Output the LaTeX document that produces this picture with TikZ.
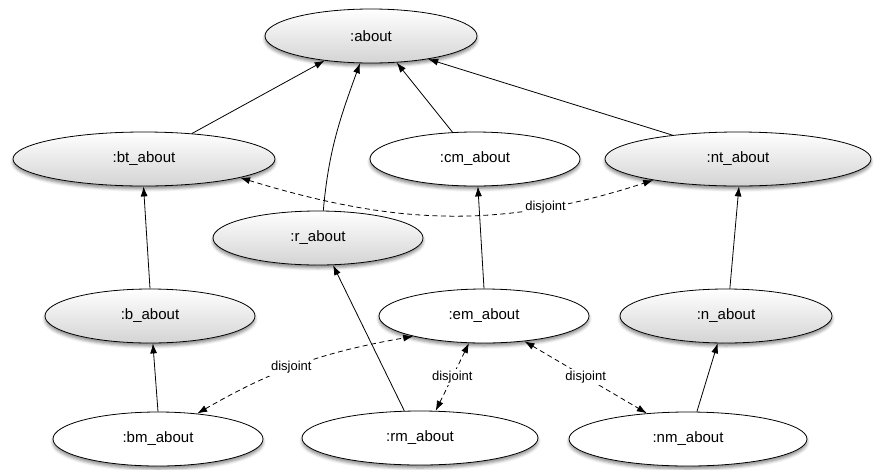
\documentclass[tikz,border=0pt]{standalone}
\usepackage{fontspec}
\setmainfont{Liberation Sans}
\usetikzlibrary{shapes.geometric,arrows.meta,shadows.blur}

\begin{document}
\begin{tikzpicture}[x=1pt,y=-1pt,>={Latex[length=10pt,width=7pt]},line width=0.8pt,
    concept/.style={ellipse,draw,fill=white,minimum width=210pt,minimum height=54pt,inner sep=0pt,
      font=\fontsize{15}{18}\selectfont,
      blur shadow={shadow xshift=0pt,shadow yshift=-3pt,shadow blur radius=3pt,shadow opacity=45}},
    grey concept/.style={concept,top color=white,bottom color=black!17},
    disjoint/.style={<->,dash pattern=on 5pt off 3.5pt},
    lbl/.style={fill=white,inner sep=2pt,font=\fontsize{13}{15}\selectfont}]
  \useasboundingbox (0,0) rectangle (874,469);
  \node[grey concept, minimum width=212pt] (about) at (371,36) {:about};
  \node[grey concept, minimum width=262pt] (bt_about) at (144,159) {:bt\_about};
  \node[concept] (cm_about) at (475,159) {:cm\_about};
  \node[grey concept, minimum width=266pt] (nt_about) at (738,159) {:nt\_about};
  \node[grey concept] (r_about) at (318,238) {:r\_about};
  \node[grey concept] (b_about) at (150,316) {:b\_about};
  \node[concept] (em_about) at (484,316) {:em\_about};
  \node[grey concept, minimum width=212pt] (n_about) at (726,316) {:n\_about};
  \node[concept] (bm_about) at (158,439) {:bm\_about};
  \node[concept, minimum width=236pt] (rm_about) at (420,438) {:rm\_about};
  \node[concept, minimum width=238pt] (nm_about) at (688,439) {:nm\_about};
  \path[->]
  (bt_about.28) edge (about.208)
  (r_about.79) edge[out=85,in=-110] (about.248)
  (cm_about.130) edge (about.314)
  (nt_about.160) edge (about.338)
  (b_about.north) edge (bt_about.269)
  (em_about.north) edge (cm_about.276)
  (n_about.82) edge (nt_about.272)
  (bm_about.north) edge (b_about.276)
  (rm_about.120) edge (r_about.299)
  (nm_about.72) edge (n_about.253);
  \path[disjoint]
  (bt_about.349) edge[out=-17,in=198] node[lbl,pos=.75] (d_top) {disjoint} (nt_about.194)
  (bm_about.33) edge[out=30,in=190] node[lbl,pos=.45] (d_left) {disjoint} (em_about.196)
  (rm_about.60) edge node[lbl] (d_mid) {disjoint} (em_about.241)
  (em_about.328) edge node[lbl] (d_right) {disjoint} (nm_about.148);
\end{tikzpicture}
\end{document}
